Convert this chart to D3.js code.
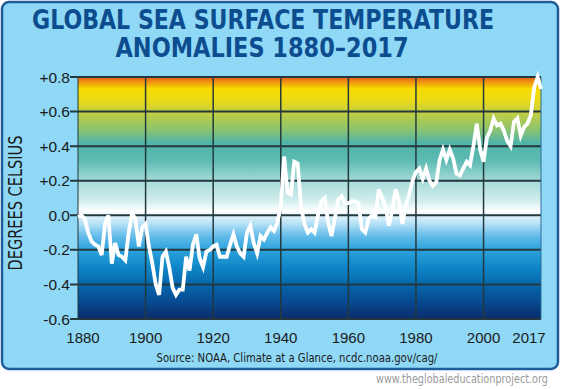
<!DOCTYPE html>
<html>
<head>
<meta charset="utf-8">
<script src="https://cdn.jsdelivr.net/npm/d3@7"></script>
<style>
  body { margin: 0; background: #fff; }
  svg { display: block; }
</style>
</head>
<body>
<svg id="chart" width="561" height="389"></svg>
<script>
// annual sea surface temperature anomalies, deg C
var years = d3.range(1880, 2018);
var anomalies = [
  -0.01, 0.00, -0.02, -0.10, -0.15, -0.17, -0.18, -0.23, -0.05, 0.00,
  -0.28, -0.16, -0.23, -0.24, -0.26, -0.10, 0.01, -0.02, -0.18, -0.07,
  -0.05, -0.18, -0.28, -0.40, -0.46, -0.24, -0.21, -0.30, -0.42, -0.46,
  -0.43, -0.43, -0.24, -0.32, -0.17, -0.11, -0.25, -0.30, -0.21, -0.20,
  -0.18, -0.17, -0.24, -0.24, -0.24, -0.17, -0.11, -0.18, -0.22, -0.24,
  -0.10, -0.06, -0.16, -0.22, -0.12, -0.14, -0.10, -0.07, -0.09, -0.04,
  0.05, 0.34, 0.13, 0.12, 0.31, 0.30, 0.05, -0.05, -0.10, -0.08,
  -0.10, 0.00, 0.08, 0.10, -0.04, -0.12, -0.02, 0.09, 0.11, 0.07,
  0.07, 0.08, 0.08, 0.07, -0.08, -0.10, -0.02, 0.00, -0.01, 0.15,
  0.10, 0.05, -0.06, 0.03, 0.15, 0.08, -0.05, 0.06, 0.12, 0.20,
  0.25, 0.27, 0.21, 0.27, 0.20, 0.17, 0.19, 0.32, 0.38, 0.32,
  0.38, 0.33, 0.24, 0.23, 0.27, 0.31, 0.29, 0.40, 0.53, 0.38,
  0.31, 0.45, 0.49, 0.56, 0.52, 0.53, 0.49, 0.43, 0.40, 0.54,
  0.56, 0.46, 0.51, 0.53, 0.58, 0.74, 0.80, 0.73
];
var yTicks = [-0.6, -0.4, -0.2, 0, 0.2, 0.4, 0.6, 0.8];
var yTickLabels = ["-0.6", "-0.4", "-0.2", "0.0", "+0.2", "+0.4", "+0.6", "+0.8"];
var xTicks = [1880, 1900, 1920, 1940, 1960, 1980, 2000, 2017];
var gridYears = [1900, 1920, 1940, 1960, 1980, 2000];

// background colour bands, by anomaly value
var bandValues = [0.8, 0.775, 0.73, 0.66, 0.6, 0.5, 0.42, 0.32, 0.2, 0.08, 0.025, 0.0, -0.05, -0.12, -0.2, -0.3, -0.4, -0.5, -0.6];
var bandColors = ["#e05a1c", "#ee8c12", "#f8dc00", "#e9da1a", "#c6cf40", "#8ec46c", "#50b4a8", "#5cbab2", "#a4dad8",
  "#d4eeee", "#ffffff", "#e2f3fb", "#b4e0f6", "#62bce9", "#2ca2dc", "#0f86c7", "#0667ad", "#074a91", "#0a2b6a"];

var svg = d3.select("#chart");
var plotL = 78, plotR = 541, plotT = 77, plotB = 319;

var x = d3.scaleLinear().domain([1880, 2017]).range([plotL, plotR]);
var y = d3.scaleLinear().domain([-0.6, 0.8]).range([plotB, plotT]);

// outer panel
svg.append("rect")
  .attr("x", 2).attr("y", 2).attr("width", 556).attr("height", 367)
  .attr("rx", 7)
  .attr("fill", "#8fd8f6")
  .attr("stroke", "#1f5c9c")
  .attr("stroke-width", 2.5);

svg.append("text")
  .attr("x", 263).attr("y", 29)
  .attr("text-anchor", "middle")
  .attr("textLength", 462).attr("lengthAdjust", "spacingAndGlyphs")
  .style("font", "bold 27px 'DejaVu Sans', sans-serif")
  .attr("fill", "#0c4d90")
  .text("GLOBAL SEA SURFACE TEMPERATURE");
svg.append("text")
  .attr("x", 262).attr("y", 57)
  .attr("text-anchor", "middle")
  .attr("textLength", 293).attr("lengthAdjust", "spacingAndGlyphs")
  .style("font", "bold 27px 'DejaVu Sans', sans-serif")
  .attr("fill", "#0c4d90")
  .text("ANOMALIES 1880\u20132017");

// gradient
var defs = svg.append("defs");
var grad = defs.append("linearGradient")
  .attr("id", "bg")
  .attr("gradientUnits", "userSpaceOnUse")
  .attr("x1", 0).attr("x2", 0)
  .attr("y1", y(0.8)).attr("y2", y(-0.6));
grad.selectAll("stop")
  .data(bandValues)
  .enter().append("stop")
  .attr("offset", function (d) { return (y(d) - y(0.8)) / (y(-0.6) - y(0.8)); })
  .attr("stop-color", function (d, i) { return bandColors[i]; });

svg.append("rect")
  .attr("x", plotL).attr("y", plotT)
  .attr("width", plotR - plotL).attr("height", plotB - plotT)
  .attr("fill", "url(#bg)");

// grid
svg.append("g").selectAll("line")
  .data(yTicks)
  .enter().append("line")
  .attr("x1", plotL - 8).attr("x2", plotR)
  .attr("y1", function (d) { return y(d); })
  .attr("y2", function (d) { return y(d); })
  .attr("stroke", "#24393d")
  .attr("stroke-width", 2);

svg.append("g").selectAll("line")
  .data(gridYears)
  .enter().append("line")
  .attr("x1", function (d) { return x(d); })
  .attr("x2", function (d) { return x(d); })
  .attr("y1", plotT).attr("y2", plotB)
  .attr("stroke", "#24393d")
  .attr("stroke-width", 1.5);

svg.append("line")
  .attr("x1", plotL).attr("x2", plotL)
  .attr("y1", plotT).attr("y2", plotB)
  .attr("stroke", "#24393d").attr("stroke-width", 1);
svg.append("line")
  .attr("x1", plotR).attr("x2", plotR)
  .attr("y1", plotT).attr("y2", plotB)
  .attr("stroke", "#2c6e9a").attr("stroke-width", 1);

// data line
var line = d3.line()
  .x(function (d, i) { return x(years[i]); })
  .y(function (d) { return y(d); });

svg.append("path")
  .datum(anomalies)
  .attr("d", line)
  .attr("fill", "none")
  .attr("stroke", "#ffffff")
  .attr("stroke-width", 3.8)
  .attr("stroke-linejoin", "miter");

// y labels
svg.append("g").selectAll("text")
  .data(yTicks)
  .enter().append("text")
  .attr("x", plotL - 8)
  .attr("y", function (d) { return y(d); })
  .attr("dy", "0.36em")
  .attr("text-anchor", "end")
  .style("font", "15.5px 'Liberation Sans', Arial, sans-serif")
  .attr("fill", "#1b1b1b")
  .text(function (d, i) { return yTickLabels[i]; });

// x labels
svg.append("g").selectAll("text")
  .data(xTicks)
  .enter().append("text")
  .attr("x", function (d) { return x(d); })
  .attr("dx", function (d) { return d === 1880 ? 5 : d === 2017 ? -12 : 0; })
  .attr("y", 343)
  .attr("text-anchor", "middle")
  .style("font", "15px 'Liberation Sans', Arial, sans-serif")
  .attr("fill", "#1b1b1b")
  .text(function (d) { return d; });

svg.append("text")
  .attr("transform", "translate(22,203) rotate(-90)")
  .attr("text-anchor", "middle")
  .attr("textLength", 135).attr("lengthAdjust", "spacingAndGlyphs")
  .style("font", "19px 'DejaVu Sans', sans-serif")
  .attr("fill", "#1b1b1b")
  .text("DEGREES CELSIUS");

svg.append("text")
  .attr("x", 297).attr("y", 362)
  .attr("text-anchor", "middle")
  .attr("textLength", 281).attr("lengthAdjust", "spacingAndGlyphs")
  .style("font", "12.5px 'DejaVu Sans', sans-serif")
  .attr("fill", "#1b1b1b")
  .text("Source: NOAA, Climate at a Glance, ncdc.noaa.gov/cag/");

svg.append("text")
  .attr("x", 548).attr("y", 383)
  .attr("text-anchor", "end")
  .attr("textLength", 172).attr("lengthAdjust", "spacingAndGlyphs")
  .style("font", "11.5px 'DejaVu Sans', sans-serif")
  .attr("fill", "#9a9a9a")
  .text("www.theglobaleducationproject.org");
</script>
</body>
</html>
